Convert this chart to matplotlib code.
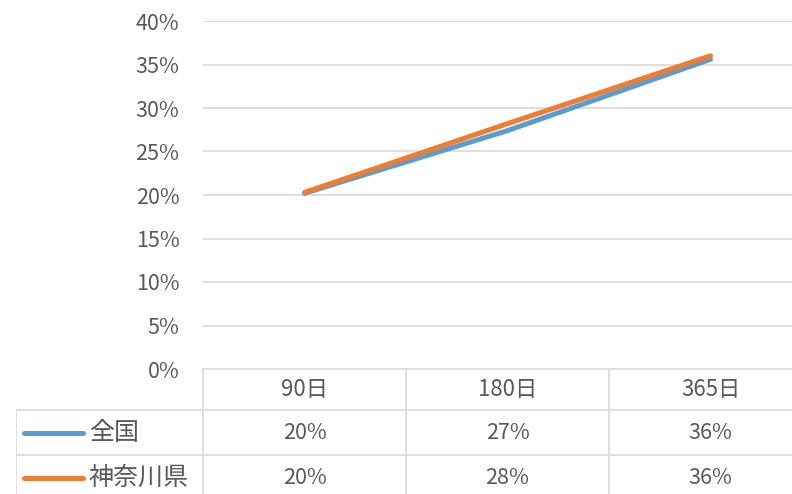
import matplotlib
matplotlib.use("Agg")
import matplotlib.pyplot as plt

plt.rcParams['font.family'] = ['Noto Sans CJK JP', 'DejaVu Sans']

categories = ["90日", "180日", "365日"]
series_names = ["全国", "神奈川県"]
zenkoku = [0.202, 0.274, 0.356]
kanagawa = [0.203, 0.282, 0.360]
series_values = [zenkoku, kanagawa]
colors = ["#5B9BD5", "#ED7D31"]
y_ticks = [0.0, 0.05, 0.10, 0.15, 0.20, 0.25, 0.30, 0.35, 0.40]

W, H = 792, 494
fig = plt.figure(figsize=(W / 100, H / 100), dpi=100)

text_color = "#595959"
grid_color = "#D9D9D9"
fs_num = 15.5
fs_head = 16
fs_name = 18
lw_series = 3.6

# plot area: one category column is ~203 px wide
col_w = 203
x0, y_top, y_base = 203, 21, 369
ax = fig.add_axes([x0 / W, (H - y_base) / H, 3 * col_w / W, (y_base - y_top) / H])
ax.set_xlim(-0.5, 2.5)
ax.set_ylim(0, 0.4)
ax.set_yticks(y_ticks)
ax.set_yticklabels([f"{v*100:.0f}%" for v in y_ticks])
ax.set_xticks([])
for s in ax.spines.values():
    s.set_visible(False)
ax.tick_params(axis='y', length=0, pad=17, labelsize=fs_num, labelcolor=text_color)
for t in y_ticks:
    ax.axhline(t, color=grid_color, lw=1.2, zorder=0)
xs = list(range(len(categories)))
for vals, c in zip(series_values, colors):
    ax.plot(xs, vals, color=c, lw=lw_series, solid_capstyle='round', zorder=3)

# data table under the plot
left_px = 16
label_w = (x0 - left_px) / col_w
row_h = 44
tab = fig.add_axes([left_px / W, (H - y_base - 3 * row_h) / H,
                    (x0 - left_px + 3 * col_w) / W, 3 * row_h / H])
tab.set_xlim(-0.5 - label_w, 2.5)
tab.set_ylim(3, 0)
tab.axis('off')
bounds = [0, 41 / row_h, 86 / row_h, 3]
# vertical borders of the category columns
for i in range(len(categories)):
    tab.plot([i - 0.5, i - 0.5], [0, 3], color=grid_color, lw=1.2, clip_on=False)
# left border of series rows
tab.plot([-0.5 - label_w, -0.5 - label_w], [bounds[1], 3], color=grid_color, lw=1.2)
# horizontal borders
tab.plot([-0.5, 2.5], [0, 0], color=grid_color, lw=1.2)
for r in bounds[1:3]:
    tab.plot([-0.5 - label_w, 2.5], [r, r], color=grid_color, lw=1.2)

row_centers = [(bounds[k] + bounds[k + 1]) / 2 for k in range(3)]
for i, cat in enumerate(categories):
    tab.text(i, row_centers[0], cat, ha='center', va='center', fontsize=fs_head, color=text_color)
lx0 = -0.5 - label_w + 8 / col_w
lx1 = lx0 + 59 / col_w
for r, (name, vals, c) in enumerate(zip(series_names, series_values, colors), start=1):
    yc = row_centers[r]
    tab.plot([lx0, lx1], [yc, yc], color=c, lw=lw_series, solid_capstyle='round')
    tab.text(lx1 + 6 / col_w, yc, name, ha='left', va='center', fontsize=fs_name, color=text_color)
    for i, v in enumerate(vals):
        tab.text(i, yc, f"{v*100:.0f}%", ha='center', va='center', fontsize=fs_num, color=text_color)

fig.savefig("out.png", dpi=100)
